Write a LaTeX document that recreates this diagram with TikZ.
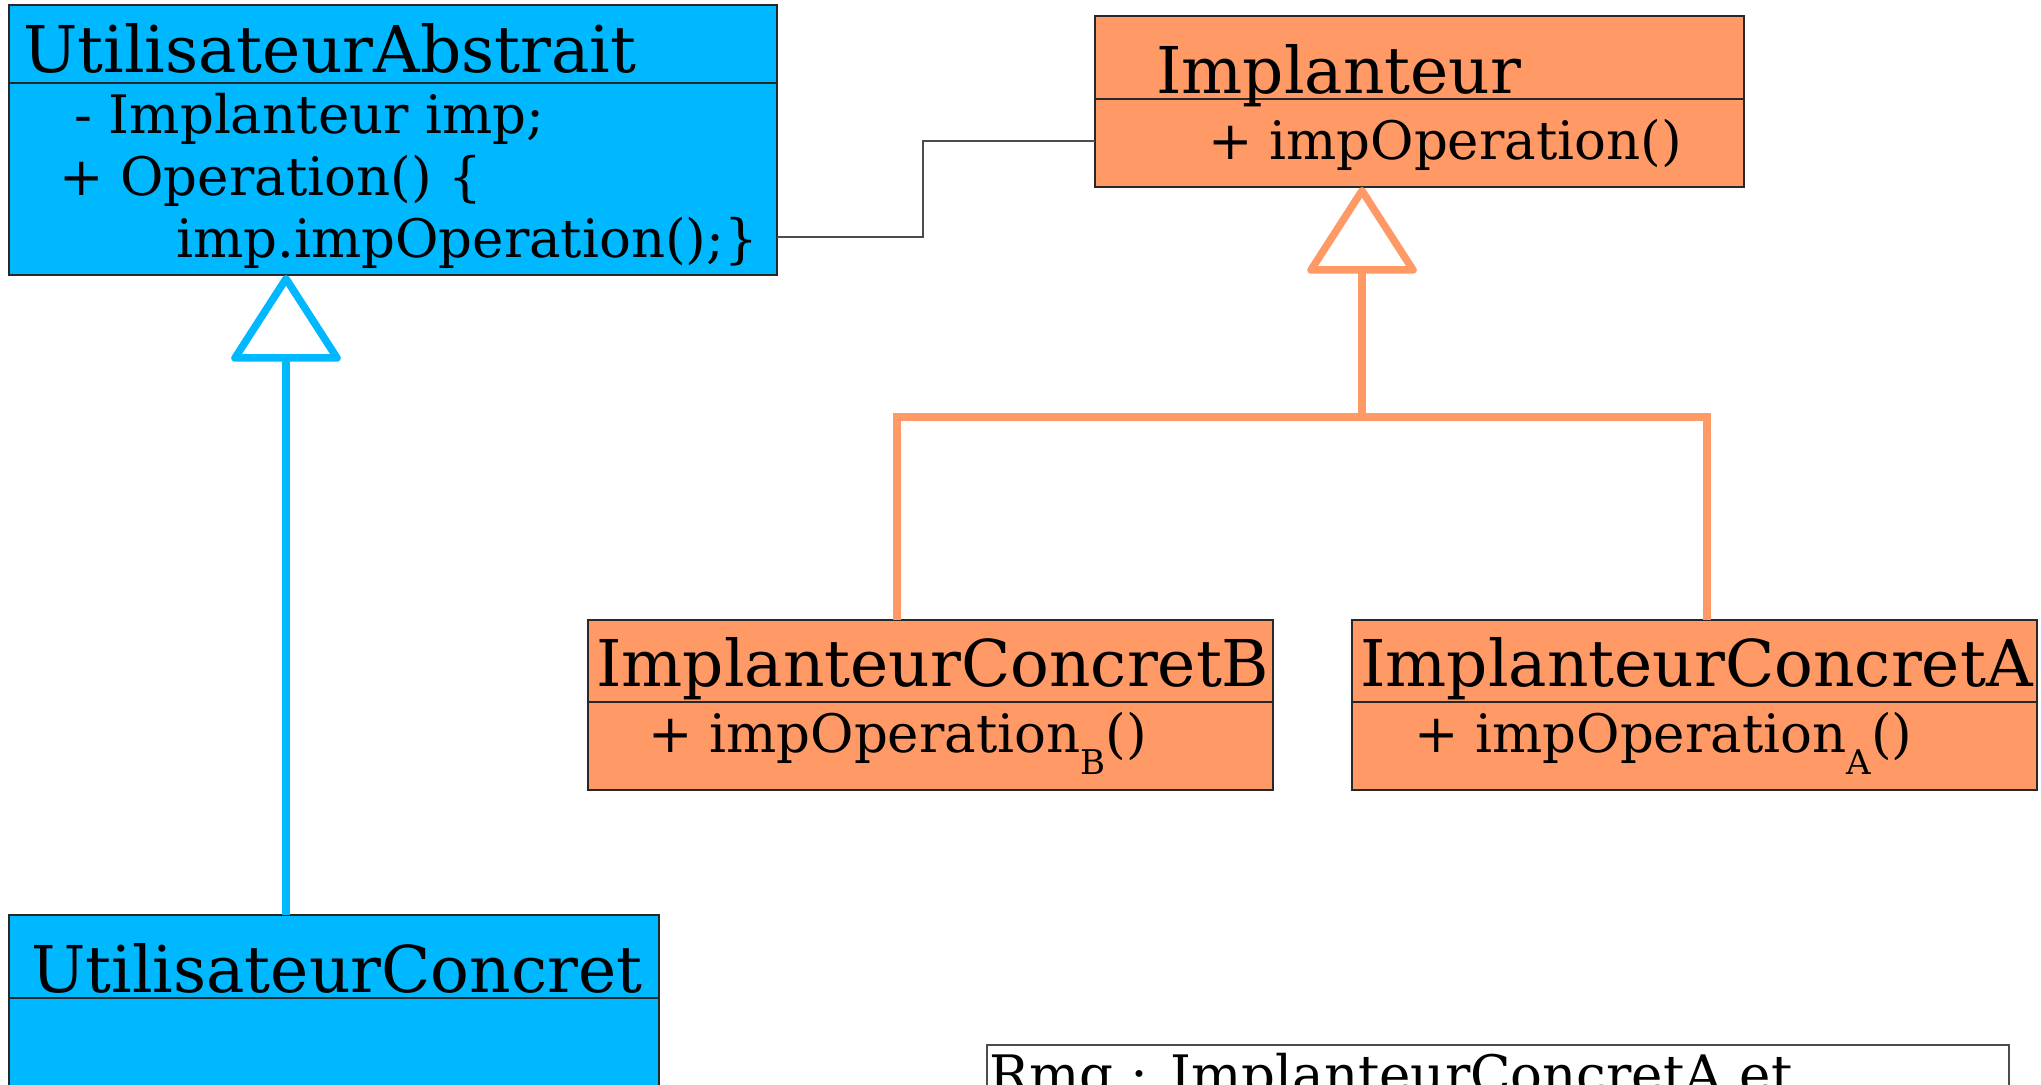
\documentclass[tikz,border=0pt]{standalone}
\usepackage{fontspec}
\setmainfont{DejaVu Serif}
\usetikzlibrary{arrows.meta}
\definecolor{umlblue}{RGB}{0,184,255}
\definecolor{umlorange}{RGB}{255,153,102}
\definecolor{rim}{RGB}{40,40,40}
\begin{document}
\begin{tikzpicture}[x=1pt,y=-1pt,
  classbox/.style={draw=rim, line width=1.4pt, anchor=north west,
    inner sep=0pt, outer sep=0pt},
  divider/.style={draw=rim, line width=1.4pt},
  title/.style={anchor=base west, inner sep=0pt,
    font=\fontsize{64.5}{70}\selectfont},
  member/.style={anchor=base west, inner sep=0pt,
    font=\fontsize{53}{60}\selectfont},
  assoc/.style={draw=black!70, line width=1.4pt},
  genblue/.style={draw=umlblue, line width=7.5pt,
    -{Triangle[open, length=90pt, width=114pt, round]}},
  genorange/.style={draw=umlorange, line width=7.5pt, line join=miter},
  genorangetip/.style={genorange,
    -{Triangle[open, length=90pt, width=114pt, round]}},
]
\clip (0,0) rectangle (2041,1084);
\fill[white] (0,0) rectangle (2041,1084);

% ---- class boxes ----
\node[classbox, fill=umlblue, minimum width=768pt, minimum height=270pt]
  (ua) at (9,5) {};
\draw[divider] (9,83) -- (777,83);
\node[title] (uaT) at (23,72) {UtilisateurAbstrait};
\node[member] (uaM1) at (74,133) {- Implanteur imp;};
\node[member] (uaM2) at (59,195) {+ Operation() \{};
\node[member] (uaM3) at (176,257) {imp.impOperation();\}};

\node[classbox, fill=umlorange, minimum width=649pt, minimum height=171pt]
  (imp) at (1095,16) {};
\draw[divider] (1095,99) -- (1744,99);
\node[title] (impT) at (1156,93) {Implanteur};
\node[member] (impM) at (1208,159) {+ impOperation()};

\node[classbox, fill=umlorange, minimum width=685pt, minimum height=170pt]
  (icb) at (588,620) {};
\draw[divider] (588,702) -- (1273,702);
\node[title] (icbT) at (596,686) {ImplanteurConcretB};
\node[member] (icbM) at (648,752)
  {+ impOperation\raisebox{-22pt}{\fontsize{34}{36}\selectfont B}()};

\node[classbox, fill=umlorange, minimum width=685pt, minimum height=170pt]
  (ica) at (1352,620) {};
\draw[divider] (1352,702) -- (2037,702);
\node[title] (icaT) at (1360,686) {ImplanteurConcretA};
\node[member] (icaM) at (1414,752)
  {+ impOperation\raisebox{-22pt}{\fontsize{34}{36}\selectfont A}()};

\node[classbox, fill=umlblue, minimum width=650pt, minimum height=220pt]
  (uc) at (9,915) {};
\draw[divider] (9,998) -- (659,998);
\node[title] (ucT) at (31,992) {UtilisateurConcret};

% ---- note ----
\node[classbox, draw=black!70, fill=white, minimum width=1022pt,
  minimum height=100pt] (rmq) at (987,1045) {};
\node[member] (rmqT) at (989,1093) {Rmq : ImplanteurConcretA et};

% ---- association ----
\coordinate (bend) at (923,0);
\coordinate (assocA) at ([yshift=-97pt]ua.east);
\coordinate (assocB) at ([yshift=-39.5pt]imp.west);
\draw[assoc] (assocA) -| (bend |- assocB) -- (assocB);

% ---- inheritance ----
\coordinate (ucx) at (286,0);
\draw[genblue] (uc.north -| ucx) -- (ua.south -| ucx);

\coordinate (junc) at (1362,417);
\coordinate (icbx) at (897,0);
\coordinate (icax) at (1707,0);
\draw[genorange] (icb.north -| icbx) |- (junc);
\draw[genorange] (ica.north -| icax) |- (junc);
\draw[genorangetip] (junc) -- (imp.south -| junc);
\end{tikzpicture}
\end{document}
